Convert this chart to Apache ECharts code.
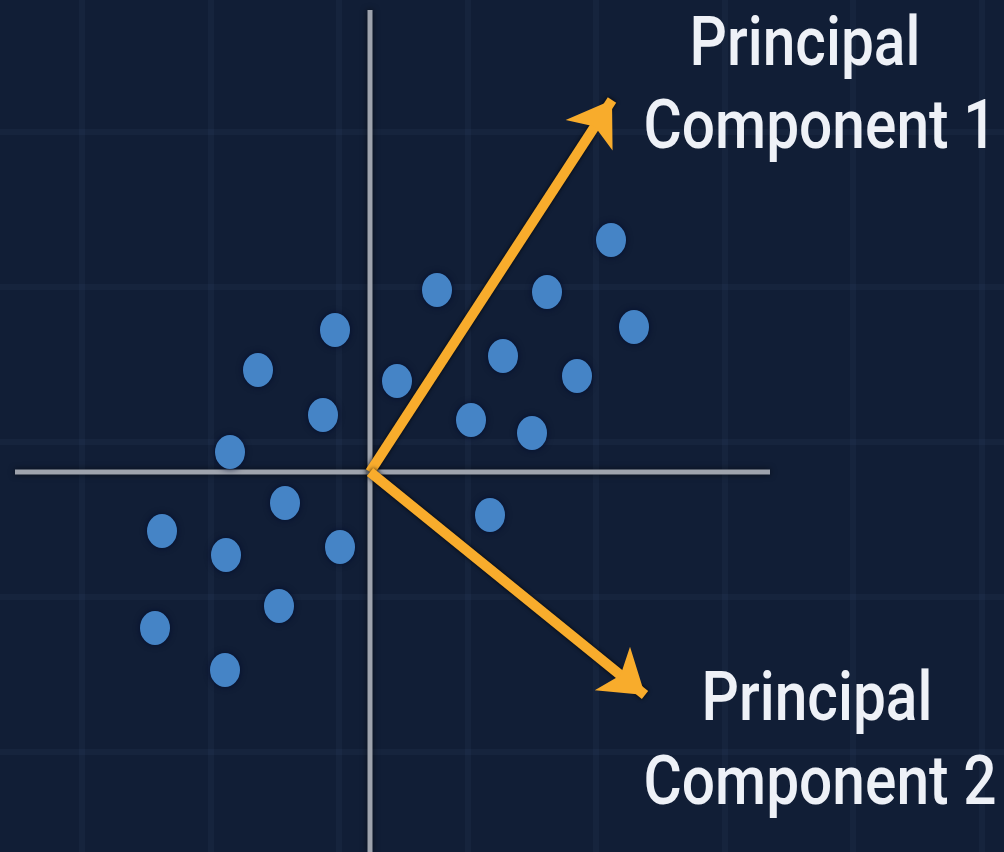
<!DOCTYPE html>
<html><head><meta charset="utf-8">
<style>html,body{margin:0;padding:0;background:#111e36;overflow:hidden;}#c{width:1004px;height:852px;}</style>
<script src="https://cdn.jsdelivr.net/npm/echarts@6/dist/echarts.min.js"></script>
</head><body><div id="c"></div>
<script>
// data (units: origin at the axes crossing)
const pointX = [2.41, 0.67, 1.77, -0.35, 2.64, -1.12, 1.33, 0.27, 2.07, -0.47, 1.01, 1.62, -1.40, -0.85, 1.20, -2.08, -1.44, -0.30, -0.91, -2.15, -1.45];
const pointY = [2.32, 1.82, 1.80, 1.42, 1.45, 1.02, 1.16, 0.91, 0.96, 0.57, 0.52, 0.39, 0.20, -0.31, -0.43, -0.59, -0.83, -0.75, -1.34, -1.56, -1.98];
const pc1 = [2.42, 3.72];
const pc2 = [2.75, -2.23];
const axisXExtent = [-3.55, 4.00];
const axisYExtent = [-3.80, 4.62];
const label1 = ['Principal', 'Component 1'];
const label2 = ['Principal', 'Component 2'];

const points = pointX.map((x, i) => [x, pointY[i]]);
const chart = echarts.init(document.getElementById('c'));
const font = '500 69px Roboto';
const txt = (t, x, y) => ({
  type: 'text', x: x, y: y, scaleX: 0.85, z: 100,
  style: { text: t, x: 0, y: 0, textAlign: 'center', verticalAlign: 'middle', textVerticalAlign: 'middle', font: font, fill: '#eef1f7' }
});
const bgSplit = { show: true, lineStyle: { color: 'rgba(110,140,190,0.06)', width: 6 } };
const hidden = { axisLine: { show: false }, axisTick: { show: false }, axisLabel: { show: false } };
chart.setOption({
  backgroundColor: '#111e36',
  animation: false,
  grid: [
    { left: 0, right: 0, top: 0, bottom: 0 },
    { left: 82, right: 22.5, top: 0, bottom: 0 },
    { left: 0, right: 0, top: 132, bottom: 100 }
  ],
  xAxis: [
    { type: 'value', gridIndex: 0, min: -3.70, max: 6.34, show: false },
    Object.assign({ type: 'value', gridIndex: 1, min: 0, max: 7, interval: 1, splitLine: bgSplit }, hidden),
    Object.assign({ type: 'value', gridIndex: 2, min: 0, max: 1, splitLine: { show: false } }, hidden)
  ],
  yAxis: [
    { type: 'value', gridIndex: 0, min: -3.80, max: 4.72, show: false },
    Object.assign({ type: 'value', gridIndex: 1, min: 0, max: 1, splitLine: { show: false } }, hidden),
    Object.assign({ type: 'value', gridIndex: 2, min: 0, max: 4, interval: 1, splitLine: bgSplit }, hidden)
  ],
  series: [
    { type: 'line', xAxisIndex: 0, yAxisIndex: 0, data: [[axisXExtent[0], 0], [axisXExtent[1], 0]], symbol: 'none', z: 2,
      lineStyle: { color: '#9ea3ad', width: 5, shadowBlur: 6, shadowColor: 'rgba(0,0,0,0.6)' } },
    { type: 'line', xAxisIndex: 0, yAxisIndex: 0, data: [[0, axisYExtent[0]], [0, axisYExtent[1]]], symbol: 'none', z: 2,
      lineStyle: { color: '#9ea3ad', width: 5, shadowBlur: 6, shadowColor: 'rgba(0,0,0,0.6)' } },
    { type: 'scatter', xAxisIndex: 0, yAxisIndex: 0, data: points, symbolSize: [30, 34], z: 3,
      itemStyle: { color: '#4584c6', opacity: 1, shadowBlur: 6, shadowColor: 'rgba(0,12,45,0.9)' } },
    { type: 'lines', coordinateSystem: 'cartesian2d', xAxisIndex: 0, yAxisIndex: 0, z: 5,
      symbol: ['none', 'arrow'], symbolSize: 42,
      lineStyle: { color: '#f8ac2c', width: 10, opacity: 1, shadowBlur: 4, shadowColor: 'rgba(0,0,0,0.85)' },
      data: [ { coords: [[0, 0], pc1] }, { coords: [[0, 0], pc2] } ] }
  ],
  graphic: [
    txt(label1[0], 805, 48), txt(label1[1], 820, 131),
    txt(label2[0], 817, 703), txt(label2[1], 820, 787)
  ]
});
</script></body></html>
